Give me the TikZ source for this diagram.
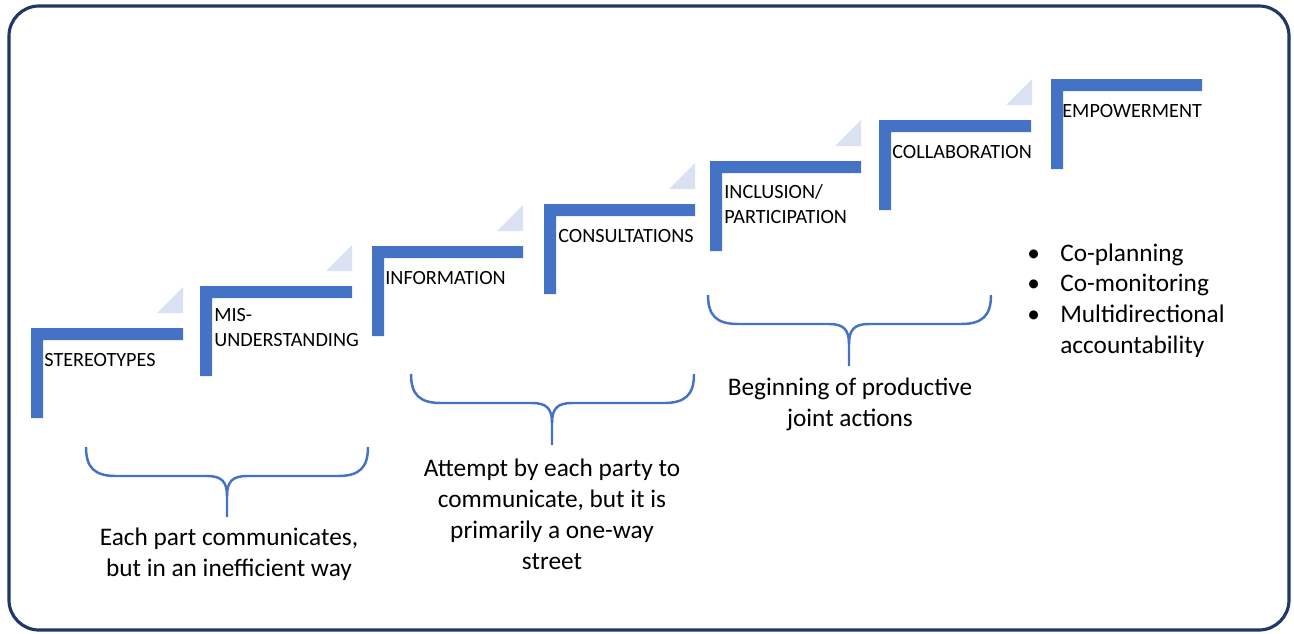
\documentclass[tikz,border=0pt]{standalone}
\usepackage{fontspec}
\setmainfont{Carlito}
\definecolor{stepblue}{HTML}{4472C4}
\definecolor{triblue}{HTML}{D9E1F2}
\definecolor{framenavy}{HTML}{203864}

\begin{document}
\begin{tikzpicture}[x=0.02cm,y=-0.02cm]
			\tikzstyle{stair} = [fill=stepblue]
			\tikzstyle{tri} = [fill=triblue]
			\tikzstyle{brace} = [draw=stepblue,line width=1.4pt]
			\tikzstyle{lbl} = [anchor=base west,inner sep=0pt,align=left,font=\fontsize{11.5}{13.7}\selectfont]
			\tikzstyle{note} = [anchor=base,inner sep=0pt,align=center,font=\fontsize{14.4}{17.6}\selectfont]
			\useasboundingbox (0,0) rectangle (1294,633);
			\draw[framenavy,line width=1.8pt,rounded corners=0.6cm] (9,6) rectangle (1289,630);
			\fill[stair] (31,418) |- (183,328) -- (183,340) -| (43,418) -- cycle;
			\fill[stair] (200,376) |- (352,286) -- (352,298) -| (212,376) -- cycle;
			\fill[stair] (372,336) |- (523,246) -- (523,258) -| (384,336) -- cycle;
			\fill[stair] (544,294) |- (695,204) -- (695,216) -| (556,294) -- cycle;
			\fill[stair] (710,251) |- (861,161) -- (861,173) -| (722,251) -- cycle;
			\fill[stair] (879,210) |- (1031,120) -- (1031,132) -| (891,210) -- cycle;
			\fill[stair] (1051,169) |- (1202,79) -- (1202,91) -| (1063,169) -- cycle;
			\fill[tri] (157,313) -- (183,313) -- (183,287) -- cycle;
			\fill[tri] (326,271) -- (352,271) -- (352,245) -- cycle;
			\fill[tri] (497,231) -- (523,231) -- (523,205) -- cycle;
			\fill[tri] (669,189) -- (695,189) -- (695,163) -- cycle;
			\fill[tri] (835,146) -- (861,146) -- (861,120) -- cycle;
			\fill[tri] (1006,105) -- (1032,105) -- (1032,79) -- cycle;
			\node[lbl] (stereo) at (44,366) {STEREOTYPES};
			\node[lbl] (misund) at (214,346) {MIS-\\UNDERSTANDING};
			\node[lbl] (info) at (385,284) {INFORMATION};
			\node[lbl] (consult) at (558,242) {CONSULTATIONS};
			\node[lbl] (incl) at (724,223) {INCLUSION/\\PARTICIPATION};
			\node[lbl] (collab) at (892,158) {COLLABORATION};
			\node[lbl] (empower) at (1062,117) {EMPOWERMENT};
			\draw[brace] (86,447) .. controls (86,468) and (95,476) .. (116,476) -- (207,476) .. controls (222,476) and (227,482) .. (227,496) -- (227,517);
			\draw[brace] (368,447) .. controls (368,468) and (359,476) .. (338,476) -- (247,476) .. controls (232,476) and (227,482) .. (227,496);
			\draw[brace] (411,374) .. controls (411,395) and (420,403) .. (441,403) -- (532,403) .. controls (547,403) and (552,409) .. (552,423) -- (552,445);
			\draw[brace] (694,374) .. controls (694,395) and (685,403) .. (664,403) -- (572,403) .. controls (557,403) and (552,409) .. (552,423);
			\draw[brace] (708,295) .. controls (708,316) and (717,324) .. (738,324) -- (829,324) .. controls (844,324) and (849,330) .. (849,344) -- (849,366);
			\draw[brace] (991,295) .. controls (991,316) and (982,324) .. (961,324) -- (869,324) .. controls (854,324) and (849,330) .. (849,344);
			\node[note] (part) at (229,576) {Each part communicates,\\but in an inefficient way};
			\node[note] (attempt) at (552,569) {Attempt by each party to\\communicate, but it is\\primarily a one-way\\street};
			\node[note] (joint) at (850,426) {Beginning of productive\\joint actions};
			\node[anchor=base west,inner sep=0pt,font=\fontsize{14.4}{17.6}\selectfont] (goals) at (1027,261) {\begin{tabular}[t]{@{}l@{\hspace{11.6pt}}l@{}}\textbullet & Co-planning\\ \textbullet & Co-monitoring\\ \textbullet & Multidirectional\\ & accountability\end{tabular}};
		\end{tikzpicture}
\end{document}
